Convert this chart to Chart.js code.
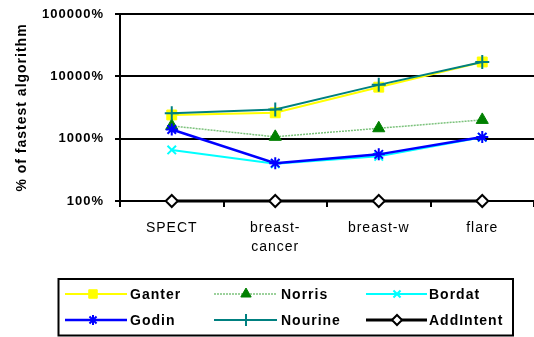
<!DOCTYPE html>
<html><head><meta charset="utf-8">
<script src="https://cdn.jsdelivr.net/npm/chart.js@4"></script>
<style>html,body{margin:0;padding:0;background:#fff;overflow:hidden}#wrap{width:534px;height:337px;position:relative}canvas{display:block}</style>
</head><body><div id="wrap"><canvas id="c"></canvas></div>
<script>
const categories = [['SPECT'], ['breast-', 'cancer'], ['breast-w'], ['flare']];
const seriesNames = ['Ganter', 'Norris', 'Bordat', 'Godin', 'Nourine', 'AddIntent'];
const ganter = [2400, 2600, 6700, 17000];
const norris = [1600, 1070, 1470, 2000];
const bordat = [660, 395, 520, 1050];
const godin = [1400, 405, 560, 1060];
const nourine = [2550, 2950, 7300, 17000];
const addIntent = [100, 100, 100, 100];
const yTicks = [100, 1000, 10000, 100000];

const FONT = "'Liberation Sans', Arial, sans-serif";

const styles = [
  {borderColor:'#FFFF00', borderWidth:2, pointStyle:'rect', pointRadius:7, pointBackgroundColor:'#FFFF00', pointBorderColor:'#FFFF00', pointBorderWidth:1, order:6},
  {borderColor:'#7cc27c', borderWidth:1.5, borderDash:[2,1], pointStyle:'triangle', pointRadius:7, pointBackgroundColor:'#008000', pointBorderColor:'#008000', pointBorderWidth:1, order:5},
  {borderColor:'#00FFFF', borderWidth:2, pointStyle:'crossRot', pointRadius:6, pointBackgroundColor:'#00FFFF', pointBorderColor:'#00FFFF', pointBorderWidth:2, order:4},
  {borderColor:'#0000FF', borderWidth:2.5, pointStyle:'star', pointRadius:6, pointBackgroundColor:'#0000FF', pointBorderColor:'#0000FF', pointBorderWidth:2, order:3},
  {borderColor:'#008080', borderWidth:2, pointStyle:'cross', pointRadius:7, pointBackgroundColor:'#008080', pointBorderColor:'#008080', pointBorderWidth:2, order:2},
  {borderColor:'#000000', borderWidth:3, pointStyle:'rectRot', pointRadius:6, pointBackgroundColor:'#FFFFFF', pointBorderColor:'#000000', pointBorderWidth:2, order:1}
];
const seriesData = [ganter, norris, bordat, godin, nourine, addIntent];

const datasets = seriesNames.map((name, i) => Object.assign({
  label: name, data: seriesData[i], tension: 0, fill: false, clip: false, pointHoverRadius: styles[i].pointRadius
}, styles[i]));

function drawMarker(ctx, style, radius, x, y) {
  const H = window.Chart && Chart.helpers;
  if (H && H.drawPoint) {
    H.drawPoint(ctx, {pointStyle: style, radius: radius, borderWidth: ctx.lineWidth, rotation: 0}, x, y);
    return;
  }
  ctx.beginPath();
  ctx.arc(x, y, radius, 0, Math.PI * 2);
  ctx.fill(); ctx.stroke();
}

const legendLayout = {
  box: [58.5, 279, 513, 335.5],
  rows: [294, 320],
  cols: [{x0:65, x1:127, m:93, t:130}, {x0:214, x1:277, m:246, t:281}, {x0:366, x1:427, m:397, t:429}]
};
const legendMarkerRadius = [6, 6, 5, 5, 6, 5];

function setSpacing(chart) {
  try { chart.ctx.letterSpacing = '1px'; } catch (e) {}
}
const spacing = {
  id: 'spacing',
  beforeLayout: setSpacing,
  beforeDraw: setSpacing
};

const boxLegend = {
  id: 'boxLegend',
  afterDraw(chart) {
    const ctx = chart.ctx;
    const L = legendLayout;
    ctx.save();
    ctx.strokeStyle = '#000';
    ctx.lineWidth = 2;
    ctx.strokeRect(L.box[0], L.box[1], L.box[2] - L.box[0], L.box[3] - L.box[1]);
    chart.data.datasets.forEach((ds, i) => {
      const r = Math.floor(i / 3), c = i % 3;
      const y = L.rows[r], col = L.cols[c];
      ctx.save();
      ctx.strokeStyle = ds.borderColor;
      ctx.lineWidth = ds.borderWidth;
      ctx.setLineDash(ds.borderDash || []);
      ctx.beginPath(); ctx.moveTo(col.x0, y); ctx.lineTo(col.x1, y); ctx.stroke();
      ctx.setLineDash([]);
      ctx.fillStyle = ds.pointBackgroundColor;
      ctx.strokeStyle = ds.pointBorderColor;
      ctx.lineWidth = ds.pointBorderWidth;
      drawMarker(ctx, ds.pointStyle, legendMarkerRadius[i], col.m, y);
      ctx.restore();
      ctx.fillStyle = '#000';
      ctx.font = 'bold 14px ' + FONT;
      try { ctx.letterSpacing = '1px'; } catch (e) {}
      ctx.textBaseline = 'middle';
      ctx.textAlign = 'left';
      ctx.fillText(ds.label, col.t, y + 1);
    });
    ctx.restore();
  }
};

new Chart(document.getElementById('c'), {
  type: 'line',
  data: { labels: categories, datasets: datasets },
  options: {
    responsive: true, maintainAspectRatio: false, animation: false,
    layout: { autoPadding: false, padding: { top: 14, left: 0, right: 0, bottom: 0 } },
    plugins: { legend: { display: false }, tooltip: { enabled: false } },
    scales: {
      x: {
        type: 'category', offset: true,
        grid: { display: true, offset: true, drawOnChartArea: false, drawTicks: true, tickLength: 6, color: '#000', lineWidth: 2 },
        border: { display: true, color: '#000', width: 2 },
        ticks: { color: '#000', font: { family: FONT, size: 14, lineHeight: 1.4 }, padding: 11, maxRotation: 0, autoSkip: false },
        afterFit: s => { s.height = 136; s.paddingLeft = 0; s.paddingRight = 0; }
      },
      y: {
        type: 'logarithmic', min: 100, max: 100000,
        afterBuildTicks: s => { s.ticks = yTicks.map(v => ({ value: v })); },
        ticks: { callback: v => v + '%', color: '#000', font: { family: FONT, size: 13, weight: 'bold' }, padding: 11 },
        grid: { color: '#000', lineWidth: 2, drawTicks: true, tickLength: 5 },
        border: { display: true, color: '#000', width: 2 },
        title: { display: true, text: '% of fastest algorithm', color: '#000', font: { family: FONT, size: 14, weight: 'bold' }, padding: { top: 14, bottom: 0 } },
        afterFit: s => { s.width = 120; s.paddingTop = 0; s.paddingBottom = 0; }
      }
    }
  },
  plugins: [spacing, boxLegend]
});
</script>
</body></html>
